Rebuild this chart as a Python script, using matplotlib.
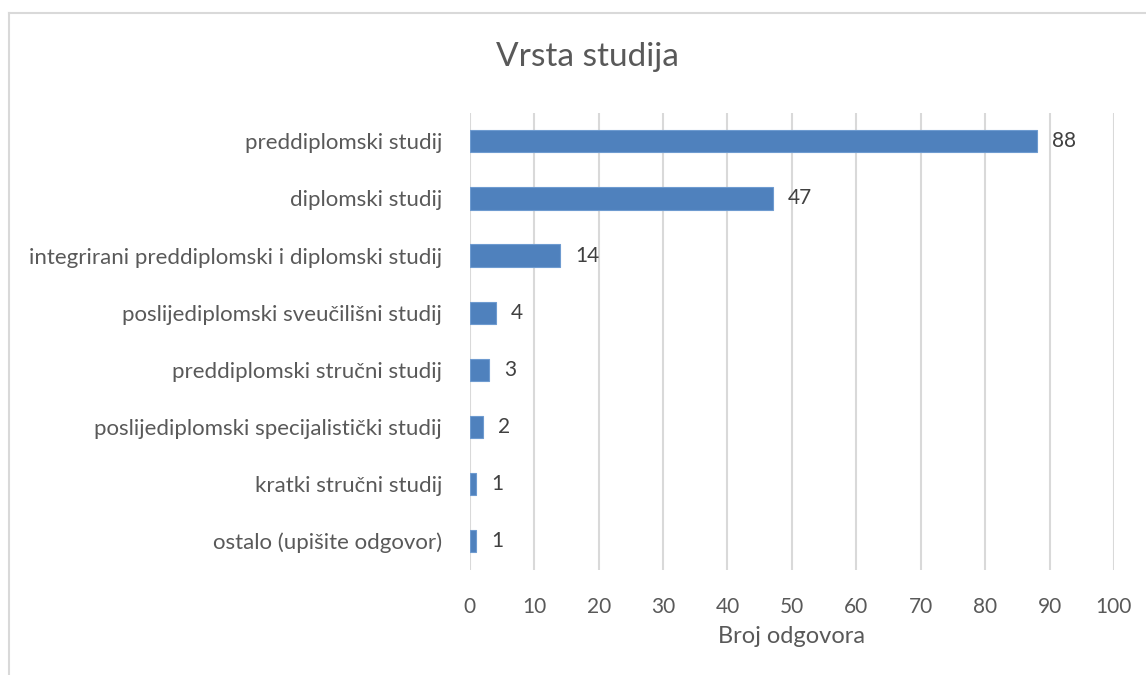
import matplotlib.pyplot as plt
from matplotlib.lines import Line2D

kategorije = [
    'preddiplomski studij',
    'diplomski studij',
    'integrirani preddiplomski i diplomski studij',
    'poslijediplomski sveučilišni studij',
    'preddiplomski stručni studij',
    'poslijediplomski specijalistički studij',
    'kratki stručni studij',
    'ostalo (upišite odgovor)',
]
odgovori = [88, 47, 14, 4, 3, 2, 1, 1]
x_oznake = list(range(0, 101, 10))

plt.rcParams['font.family'] = ['Lato', 'DejaVu Sans']

fig = plt.figure(figsize=(11.46, 6.75), dpi=100)
ax = fig.add_axes([0.410, 0.156, 0.562, 0.677])

pozicije = list(range(len(kategorije)))
bars = ax.barh(pozicije, odgovori, height=0.39, color='#4F81BD',
               edgecolor='#6E9BD0', linewidth=0.8, zorder=3)
ax.set_ylim(len(kategorije) - 0.5, -0.5)
ax.set_xlim(0, 100)
ax.set_xticks(x_oznake)
ax.set_yticks(pozicije)
ax.set_yticklabels(kategorije)

# vrijednosti desno od traka
for bar, v in zip(bars, odgovori):
    ax.text(bar.get_width() + 2.4, bar.get_y() + bar.get_height() / 2, str(v),
            ha='left', va='center', fontsize=15, color='#404040')

ax.grid(axis='x', color='#D9D9D9', linewidth=1.5, zorder=0)
for s in ax.spines.values():
    s.set_visible(False)
ax.tick_params(axis='both', length=0, colors='#595959')
ax.tick_params(axis='x', pad=20, labelsize=15)
ax.tick_params(axis='y', pad=20, labelsize=16)
ax.set_xlabel('Broj odgovora', fontsize=17, color='#595959', labelpad=6)

fig.text(0.513, 0.915, 'Vrsta studija', ha='center', va='center',
         fontsize=24, color='#595959')

# okvir grafikona (lijevi i gornji rub)
fig.add_artist(Line2D([0.008, 0.008], [0.0, 0.981], color='#D9D9D9',
                      linewidth=1.5, transform=fig.transFigure))
fig.add_artist(Line2D([0.008, 0.999], [0.981, 0.981], color='#D9D9D9',
                      linewidth=1.5, transform=fig.transFigure))

fig.savefig('out.png', dpi=100)
